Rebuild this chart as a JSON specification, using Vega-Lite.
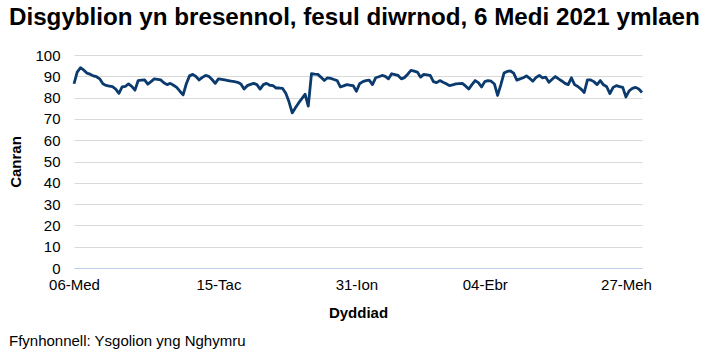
{
 "$schema": "https://vega.github.io/schema/vega-lite/v6.json",
 "padding": {"left": 8, "top": 5, "right": 10, "bottom": 5},
 "background": "white",
 "config": {"view": {"stroke": null}, "font": "Liberation Sans"},
 "title": {"text": "Disgyblion yn bresennol, fesul diwrnod, 6 Medi 2021 ymlaen", "anchor": "start", "frame": "bounds", "fontSize": 24.2, "fontWeight": "bold", "font": "Liberation Sans", "color": "#000000", "offset": 18},
 "vconcat": [{
  "width": 568,
  "height": 213,
  "title": {"text": "Ffynhonnell: Ysgolion yng Nghymru", "orient": "bottom", "anchor": "start", "frame": "bounds", "fontSize": 15, "fontWeight": "normal", "font": "Liberation Sans", "color": "#000000", "offset": 14},
  "data": {"values": [
   {"date":"06-Med","pct":86.5},{"date":"07-Med","pct":92},{"date":"08-Med","pct":94},{"date":"09-Med","pct":93},{"date":"10-Med","pct":91.5},
   {"date":"13-Med","pct":91},{"date":"14-Med","pct":90.2},{"date":"15-Med","pct":89.8},{"date":"16-Med","pct":88.8},{"date":"17-Med","pct":86.5},
   {"date":"20-Med","pct":85.7},{"date":"21-Med","pct":85.4},{"date":"22-Med","pct":85.1},{"date":"23-Med","pct":84},{"date":"24-Med","pct":82},
   {"date":"27-Med","pct":85},{"date":"28-Med","pct":85.3},{"date":"29-Med","pct":86.4},{"date":"30-Med","pct":85.3},{"date":"01-Hyd","pct":83.5},
   {"date":"04-Hyd","pct":88},{"date":"05-Hyd","pct":88.2},{"date":"06-Hyd","pct":88.3},{"date":"07-Hyd","pct":86.3},{"date":"08-Hyd","pct":87.5},
   {"date":"11-Hyd","pct":88.8},{"date":"12-Hyd","pct":88.6},{"date":"13-Hyd","pct":88.3},{"date":"14-Hyd","pct":87},{"date":"15-Hyd","pct":86.1},
   {"date":"18-Hyd","pct":86.7},{"date":"19-Hyd","pct":85.8},{"date":"20-Hyd","pct":84.8},{"date":"21-Hyd","pct":83},{"date":"22-Hyd","pct":81.3},
   {"date":"01-Tac","pct":86.5},{"date":"02-Tac","pct":90.2},{"date":"03-Tac","pct":90.9},{"date":"04-Tac","pct":89.9},{"date":"05-Tac","pct":88.3},
   {"date":"08-Tac","pct":89.5},{"date":"09-Tac","pct":90.4},{"date":"10-Tac","pct":90},{"date":"11-Tac","pct":88.5},{"date":"12-Tac","pct":86.7},
   {"date":"15-Tac","pct":88.8},{"date":"16-Tac","pct":88.6},{"date":"17-Tac","pct":88.3},{"date":"18-Tac","pct":88},{"date":"19-Tac","pct":87.7},
   {"date":"22-Tac","pct":87.5},{"date":"23-Tac","pct":87.2},{"date":"24-Tac","pct":86.4},{"date":"25-Tac","pct":84},{"date":"26-Tac","pct":85.6},
   {"date":"29-Tac","pct":86.2},{"date":"30-Tac","pct":86.7},{"date":"01-Rha","pct":86.1},{"date":"02-Rha","pct":84},{"date":"03-Rha","pct":86.1},
   {"date":"06-Rha","pct":86.7},{"date":"07-Rha","pct":85.8},{"date":"08-Rha","pct":85.6},{"date":"09-Rha","pct":84.5},{"date":"10-Rha","pct":84.5},
   {"date":"13-Rha","pct":84.3},{"date":"14-Rha","pct":82},{"date":"15-Rha","pct":78},{"date":"16-Rha","pct":72.8},{"date":"17-Rha","pct":75.2},
   {"date":"05-Ion","pct":77.5},{"date":"06-Ion","pct":79.5},{"date":"07-Ion","pct":81.6},
   {"date":"10-Ion","pct":76},{"date":"11-Ion","pct":91.2},{"date":"12-Ion","pct":91},{"date":"13-Ion","pct":90.9},{"date":"14-Ion","pct":89.5},
   {"date":"17-Ion","pct":88},{"date":"18-Ion","pct":89.3},{"date":"19-Ion","pct":89},{"date":"20-Ion","pct":88.5},{"date":"21-Ion","pct":88},
   {"date":"24-Ion","pct":85},{"date":"25-Ion","pct":85.5},{"date":"26-Ion","pct":86.1},{"date":"27-Ion","pct":85.8},{"date":"28-Ion","pct":85.6},
   {"date":"31-Ion","pct":83},{"date":"01-Chw","pct":86.5},{"date":"02-Chw","pct":87.5},{"date":"03-Chw","pct":88},{"date":"04-Chw","pct":88.2},
   {"date":"07-Chw","pct":86.1},{"date":"08-Chw","pct":89.3},{"date":"09-Chw","pct":89.8},{"date":"10-Chw","pct":90.4},{"date":"11-Chw","pct":90},
   {"date":"14-Chw","pct":88.8},{"date":"15-Chw","pct":91.2},{"date":"16-Chw","pct":90.8},{"date":"17-Chw","pct":90.4},{"date":"18-Chw","pct":88.8},
   {"date":"28-Chw","pct":89.4},{"date":"01-Maw","pct":91},{"date":"02-Maw","pct":92.8},{"date":"03-Maw","pct":92.4},{"date":"04-Maw","pct":92},
   {"date":"07-Maw","pct":89.6},{"date":"08-Maw","pct":90.9},{"date":"09-Maw","pct":90.7},{"date":"10-Maw","pct":90.4},{"date":"11-Maw","pct":87.5},
   {"date":"14-Maw","pct":87},{"date":"15-Maw","pct":88},{"date":"16-Maw","pct":87.2},{"date":"17-Maw","pct":86.5},{"date":"18-Maw","pct":85.6},
   {"date":"21-Maw","pct":86},{"date":"22-Maw","pct":86.4},{"date":"23-Maw","pct":86.6},{"date":"24-Maw","pct":86.7},{"date":"25-Maw","pct":85.5},
   {"date":"28-Maw","pct":84},{"date":"29-Maw","pct":86.1},{"date":"30-Maw","pct":88},{"date":"31-Maw","pct":87},{"date":"01-Ebr","pct":85},
   {"date":"04-Ebr","pct":87.5},{"date":"05-Ebr","pct":88},{"date":"06-Ebr","pct":87.7},{"date":"07-Ebr","pct":86.4},{"date":"08-Ebr","pct":81},
   {"date":"25-Ebr","pct":86},{"date":"26-Ebr","pct":91.5},{"date":"27-Ebr","pct":92.3},{"date":"28-Ebr","pct":92.5},{"date":"29-Ebr","pct":91.5},
   {"date":"03-Mai","pct":88.2},{"date":"04-Mai","pct":88.8},{"date":"05-Mai","pct":89.3},{"date":"06-Mai","pct":90.2},
   {"date":"09-Mai","pct":89},{"date":"10-Mai","pct":87.7},{"date":"11-Mai","pct":89.5},{"date":"12-Mai","pct":90.4},{"date":"13-Mai","pct":89.3},
   {"date":"16-Mai","pct":89.6},{"date":"17-Mai","pct":87.2},{"date":"18-Mai","pct":88.6},{"date":"19-Mai","pct":89.9},{"date":"20-Mai","pct":88.8},
   {"date":"23-Mai","pct":87.8},{"date":"24-Mai","pct":86.7},{"date":"25-Mai","pct":86.1},{"date":"26-Mai","pct":89.3},{"date":"27-Mai","pct":86.1},
   {"date":"06-Meh","pct":85.2},{"date":"07-Meh","pct":84},{"date":"08-Meh","pct":82.4},{"date":"09-Meh","pct":88.3},{"date":"10-Meh","pct":88.3},
   {"date":"13-Meh","pct":87.5},{"date":"14-Meh","pct":86.1},{"date":"15-Meh","pct":88},{"date":"16-Meh","pct":86},{"date":"17-Meh","pct":85.1},
   {"date":"20-Meh","pct":81.9},{"date":"21-Meh","pct":84.8},{"date":"22-Meh","pct":85.6},{"date":"23-Meh","pct":85.2},{"date":"24-Meh","pct":84.8},
   {"date":"27-Meh","pct":80.3},{"date":"28-Meh","pct":83.2},{"date":"29-Meh","pct":84.3},{"date":"30-Meh","pct":84.8},{"date":"01-Gor","pct":84},
   {"date":"04-Gor","pct":82.4}
  ]},
  "mark": {"type": "line", "color": "#0b3a6f", "strokeWidth": 2.8, "strokeJoin": "round"},
  "encoding": {
   "x": {"field": "date", "type": "ordinal", "sort": null, "scale": {"type": "point", "padding": 0},
    "axis": {"title": "Dyddiad", "values": ["06-Med","15-Tac","31-Ion","04-Ebr","27-Meh"], "labelAngle": 0, "ticks": false, "grid": false, "domainColor": "#bcd0ea", "labelFontSize": 15, "labelColor": "#000000", "labelPadding": 9, "labelOverlap": false, "titleFontSize": 15, "titleFontWeight": "bold", "titleColor": "#000000", "titlePadding": 13}},
   "y": {"field": "pct", "type": "quantitative", "scale": {"domain": [0, 100], "nice": false},
    "axis": {"title": "Canran", "values": [0,10,20,30,40,50,60,70,80,90,100], "ticks": false, "domain": false, "gridColor": "#d9d9d9", "labelFontSize": 15, "labelColor": "#000000", "labelPadding": 14, "titleFontSize": 15, "titleFontWeight": "bold", "titleColor": "#000000", "titlePadding": 11}}
  }
 }]
}
